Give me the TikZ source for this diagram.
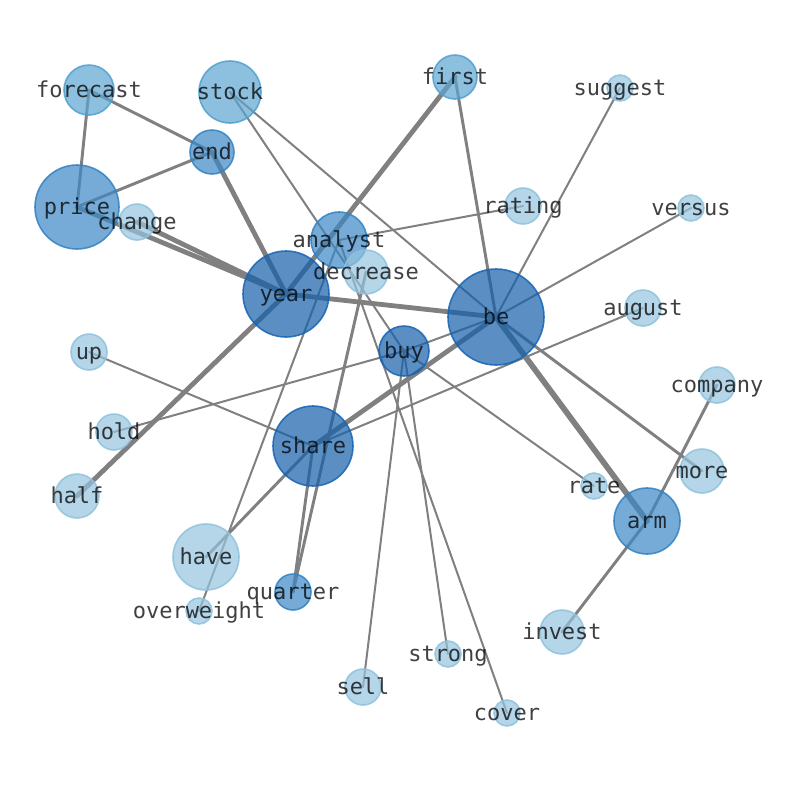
\documentclass[tikz,border=0pt]{standalone}
\usepackage{fontspec}
\setmonofont{DejaVu Sans Mono}
\definecolor{dkf}{RGB}{21,96,171}
\definecolor{dkd}{RGB}{23,100,180}
\definecolor{mdf}{RGB}{59,136,196}
\definecolor{mdd}{RGB}{50,130,195}
\definecolor{mmf}{RGB}{92,164,209}
\definecolor{mmd}{RGB}{80,160,207}
\definecolor{ltf}{RGB}{149,195,222}
\definecolor{ltd}{RGB}{143,194,221}
\definecolor{edgec}{RGB}{128,128,128}
\tikzset{
  bub/.style={circle, inner sep=0pt, line width=1.2pt, fill opacity=0.7, draw opacity=0.85},
  dk/.style={bub, fill=dkf, draw=dkd},
  md/.style={bub, fill=mdf, draw=mdd},
  mm/.style={bub, fill=mmf, draw=mmd},
  lt/.style={bub, fill=ltf, draw=ltd},
  lbl/.style={inner sep=0pt, yshift=-2.7pt, text=black, text opacity=0.75, font=\ttfamily\fontsize{16.5}{19}\selectfont, text height=0.76em, text depth=0.24em},
  thin/.style={draw=edgec, line width=1.5pt, line cap=round},
  med/.style={draw=edgec, line width=2.2pt, line cap=round},
  thick/.style={draw=edgec, line width=3.6pt, line cap=round},
  thicker/.style={draw=edgec, line width=4.3pt, line cap=round}
}
\begin{document}
\begin{tikzpicture}[x=0.75pt,y=-0.75pt]
\useasboundingbox (0,0) rectangle (794,790);
\def\nodelist{forecast/89/90/25/mm, stock/230/92/31/mm, end/212/152/22/md, price/77/207/42/md, change/137/222/18/lt, analyst/339/240/28/md, decrease/366/272/22/lt, year/286/294/43/dk, first/455/77/22/mm, suggest/620/88/13/lt, rating/523/206/18/lt, versus/691/208/13/lt, be/496/317/48/dk, august/643/308/18/lt, up/89/352/18/lt, hold/114/432/18/lt, half/77/496/22/lt, share/313/446/40/dk, have/206/557/33/lt, quarter/293/592/18/md, overweight/199/611/13/lt, sell/363/687/18/lt, buy/404/351/25/dk, company/717/385/18/lt, more/702/471/22/lt, rate/594/486/13/lt, arm/647/521/33/md, invest/562/632/22/lt, strong/448/654/13/lt, cover/507/713/13/lt}
\foreach \n/\x/\y/\r/\s in \nodelist { \coordinate (\n) at (\x,\y); }
% thin edges
\foreach \a/\b in {stock/be, stock/buy, analyst/rating, analyst/overweight, analyst/cover, be/suggest, be/versus, be/buy, buy/hold, buy/rate, buy/sell, buy/strong, up/share, share/august}
  { \draw[thin] (\a) -- (\b); }
% medium edges
\foreach \a/\b in {forecast/end, forecast/price, price/end, be/first, decrease/quarter, share/quarter, share/have, be/more, arm/company, arm/invest}
  { \draw[med] (\a) -- (\b); }
% thick edges
\foreach \a/\b in {year/end, year/price, year/change, year/first, year/half, year/be, be/share}
  { \draw[thick] (\a) -- (\b); }
\draw[thicker] (be) -- (arm);
% bubbles
\foreach \n/\x/\y/\r/\s in \nodelist { \node[\s, minimum size={1.5*\r pt}] (\n-c) at (\n) {}; }
% labels
\foreach \n/\x/\y/\r/\s in \nodelist { \node[lbl] (\n-t) at (\n) {\n}; }
\end{tikzpicture}
\end{document}
